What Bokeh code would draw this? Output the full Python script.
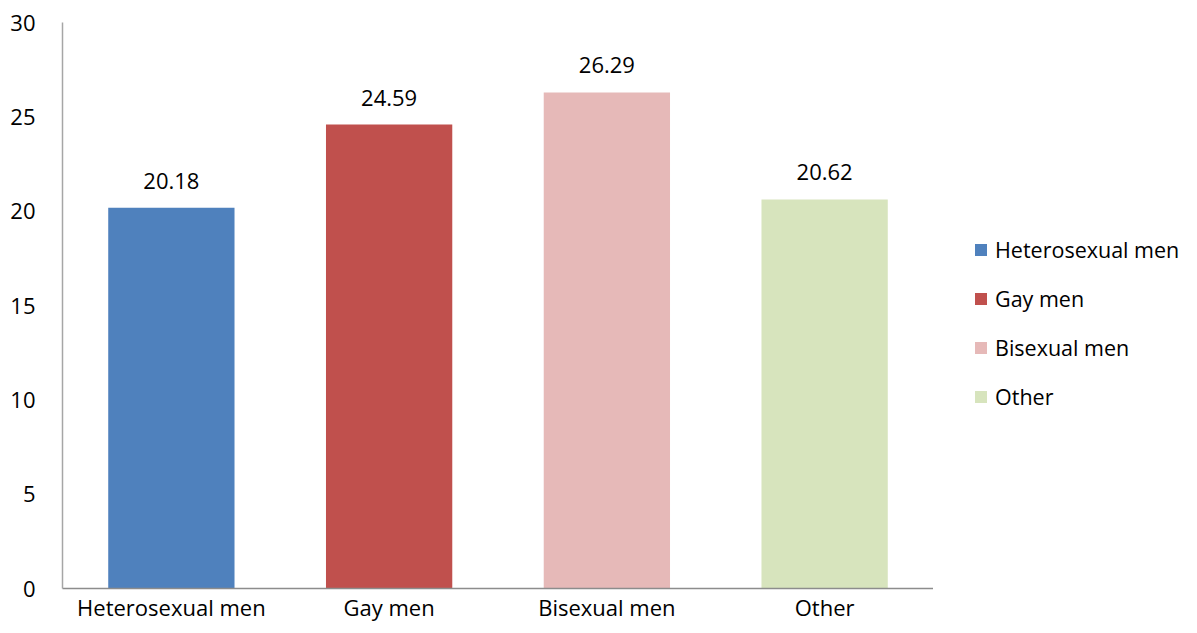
from bokeh.plotting import figure
from bokeh.layouts import row
from bokeh.models import ColumnDataSource, FactorRange, Range1d, Legend, LegendItem, LabelSet, FixedTicker
from bokeh.core.properties import value
from bokeh.embed import file_html
from bokeh.resources import INLINE

categories = ["Heterosexual men", "Gay men", "Bisexual men", "Other"]
values = [20.18, 24.59, 26.29, 20.62]
labels = ["20.18", "24.59", "26.29", "20.62"]
colors = ["#4F81BD", "#C0504D", "#E6B9B8", "#D7E4BD"]
y_ticks = [0, 5, 10, 15, 20, 25, 30]

FONT = "Open Sans"
FS = "22px"

src = ColumnDataSource(dict(cat=categories, val=values, lab=labels, col=colors))

p = figure(width=933, height=625, x_range=FactorRange(*categories, range_padding=0),
           y_range=Range1d(0, 30), output_backend="svg", toolbar_location=None,
           min_border_left=62, min_border_right=0, min_border_top=22, min_border_bottom=37)
p.outline_line_color = None
p.xgrid.visible = False
p.ygrid.visible = False

r = p.vbar(x="cat", top="val", width=0.58, fill_color="col", line_color=None, source=src)

p.add_layout(LabelSet(x="cat", y="val", text="lab", source=src, y_offset=27,
                      text_align="center", text_baseline="middle",
                      text_font=value(FONT), text_font_size=FS, text_color="#000000"))

p.yaxis.ticker = FixedTicker(ticks=y_ticks)
for ax in (p.xaxis[0], p.yaxis[0]):
    ax.axis_line_color = "#8C8C8C"
    ax.axis_line_width = 1.5
    ax.major_tick_line_color = None
    ax.minor_tick_line_color = None
    ax.major_tick_out = 0
    ax.major_tick_in = 0
    ax.major_label_text_font = FONT
    ax.major_label_text_font_size = FS
    ax.major_label_text_color = "#000000"
p.yaxis.major_label_standoff = 27
p.xaxis.major_label_standoff = 3
p.yaxis.axis_line_color = "#A6A6A6"

# legend panel: hidden copy of the bars, only the legend is shown
pl = figure(width=256, height=625, x_range=FactorRange(*categories, range_padding=0),
            y_range=Range1d(0, 30), output_backend="svg", toolbar_location=None,
            min_border=0)
pl.axis.visible = False
pl.grid.visible = False
pl.outline_line_color = None
rl = pl.vbar(x="cat", top="val", width=0.58, fill_color="col", line_color=None, source=src)
rl.visible = False

items = [LegendItem(label=c, renderers=[rl], index=i) for i, c in enumerate(categories)]
legend = Legend(items=items, location=(40, 177), orientation="vertical",
                glyph_width=15, glyph_height=15, spacing=19, label_standoff=7,
                label_text_font=FONT, label_text_font_size="21.5px", label_height=30,
                label_text_color="#000000", inactive_fill_alpha=0,
                border_line_color=None, background_fill_alpha=0, margin=0, padding=0)
pl.add_layout(legend, "center")

layout = row(p, pl, spacing=0)
open("out.html", "w").write(file_html(layout, INLINE))
